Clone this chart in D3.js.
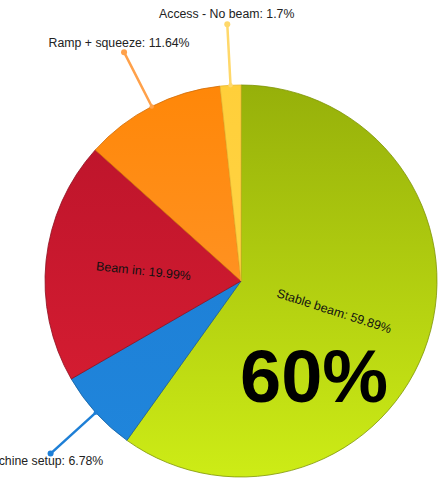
<!DOCTYPE html>
<html>
<head>
<meta charset="utf-8">
<script src="https://cdn.jsdelivr.net/npm/d3@7/dist/d3.min.js"></script>
<style>
  html, body { margin: 0; padding: 0; background: #fff; }
  svg { display: block; font-family: "Liberation Sans", Arial, sans-serif; }
</style>
</head>
<body>
<svg id="chart" width="440" height="480"></svg>
<script>
// Share of time per machine mode
const categories = ["Stable beam", "Machine setup", "Beam in", "Ramp + squeeze", "Access - No beam"];
const shares = [59.89, 6.78, 19.99, 11.64, 1.7];
const shareLabels = ["59.89%", "6.78%", "19.99%", "11.64%", "1.7%"];
const labelInside = [true, false, true, false, false];
const headline = "60%";

// Top / bottom colour of each slice's vertical gradient
const colorTop = ["#96b00a", "#1c7bd2", "#b9132a", "#ff8708", "#ffcf3a"];
const colorBottom = ["#cdec16", "#2086dc", "#dc1f33", "#ff9c3a", "#ffd84c"];
const strokeColor = ["#7f9406", "#14609f", "#8e0f20", "#d06c06", "#e8b830"];
const leaderColor = ["#9ab40c", "#1e7fd6", "#c0162b", "#ffa14a", "#ffd86a"];

const W = 440, H = 480;
const cx = 241, cy = 281, R = 196;

const svg = d3.select("#chart");
const defs = svg.append("defs");

// Gradients span the whole pie height, in the pie group's own coordinates
categories.forEach((c, i) => {
  const g = defs.append("linearGradient")
    .attr("id", "grad" + i)
    .attr("gradientUnits", "userSpaceOnUse")
    .attr("x1", 0).attr("x2", 0)
    .attr("y1", -R).attr("y2", R);
  g.append("stop").attr("offset", "0%").attr("stop-color", colorTop[i]);
  g.append("stop").attr("offset", "100%").attr("stop-color", colorBottom[i]);
});

const data = categories.map((c, i) => ({ name: c, value: shares[i], label: shareLabels[i], inside: labelInside[i], i }));

const pie = d3.pie().value(d => d.value).sort(null);
const arcs = pie(data);
const arc = d3.arc().innerRadius(0).outerRadius(R);

const g = svg.append("g").attr("transform", `translate(${cx},${cy})`);

g.selectAll("path.slice")
  .data(arcs)
  .join("path")
  .attr("class", "slice")
  .attr("d", arc)
  .attr("fill", d => `url(#grad${d.data.i})`)
  .attr("stroke", d => strokeColor[d.data.i])
  .attr("stroke-width", 0.8)
  .attr("stroke-linejoin", "round");

const mid = d => (d.startAngle + d.endAngle) / 2;
const polar = (r, a) => [r * Math.sin(a), -r * Math.cos(a)];

// Labels drawn inside the slice, rotated along the slice's middle
arcs.filter(d => d.data.inside).forEach(d => {
  const a = mid(d);
  const [x, y] = polar(R * 0.5, a);
  let deg = a * 180 / Math.PI - 90;
  if (deg > 90) deg -= 180;
  g.append("text")
    .attr("transform", `translate(${x},${y}) rotate(${deg})`)
    .attr("text-anchor", "middle")
    .attr("dy", "0.35em")
    .attr("font-size", 12.5)
    .attr("fill", "#111")
    .text(`${d.data.name}: ${d.data.label}`);
});

// Labels outside the pie with leader lines
arcs.filter(d => !d.data.inside).forEach(d => {
  const a = mid(d);
  const [x0, y0] = polar(R, a);
  const [x1, y1] = polar(R + 61, a);
  const [tx, ty] = polar(R + 72, a);
  const col = leaderColor[d.data.i];
  g.append("line")
    .attr("x1", x0).attr("y1", y0).attr("x2", x1).attr("y2", y1)
    .attr("stroke", col).attr("stroke-width", 2.5).attr("stroke-linecap", "round");
  g.append("circle").attr("cx", x0).attr("cy", y0).attr("r", 2.2).attr("fill", col);
  g.append("circle").attr("cx", x1).attr("cy", y1).attr("r", 3).attr("fill", col);
  g.append("text")
    .attr("x", tx).attr("y", ty)
    .attr("text-anchor", "middle")
    .attr("dy", "0.35em")
    .attr("font-size", 12.3)
    .attr("fill", "#222")
    .text(`${d.data.name}: ${d.data.label}`);
});

// Headline figure
svg.append("text")
  .attr("x", 240).attr("y", 402)
  .attr("font-size", 74)
  .attr("font-weight", "bold")
  .attr("fill", "#000")
  .text(headline);
</script>
</body>
</html>
